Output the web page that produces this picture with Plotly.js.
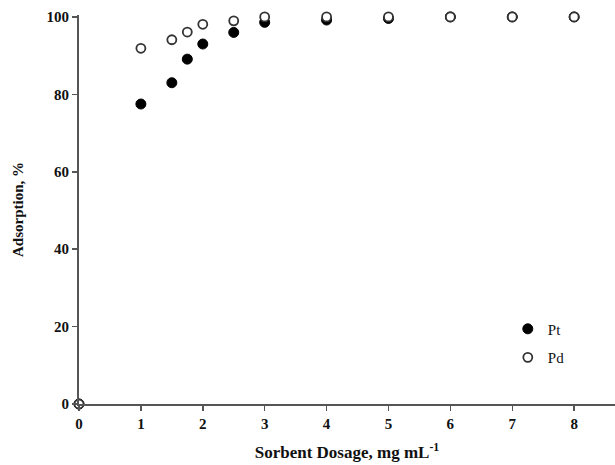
<!DOCTYPE html>
<html>
<head>
<meta charset="utf-8">
<script src="https://cdn.plot.ly/plotly-3.0.1.min.js"></script>
<style>html,body{margin:0;padding:0;background:#fff}#chart{width:615px;height:465px}</style>
</head>
<body>
<div id="chart"></div>
<script>
const dosage = [0, 1, 1.5, 1.75, 2, 2.5, 3, 4, 5, 6, 7, 8];
const ptAdsorption = [0, 77.5, 83.0, 89.1, 93.0, 96.0, 98.6, 99.2, 99.6, 100, 100, 100];
const pdAdsorption = [0, 91.9, 94.1, 96.1, 98.1, 99.0, 100, 100, 100, 100, 100, 100];
const xTicks = [0, 1, 2, 3, 4, 5, 6, 7, 8];
const yTicks = [0, 20, 40, 60, 80, 100];

const serif = 'Liberation Serif, Times New Roman, serif';
const axisColor = '#555';

const traces = [
  {
    x: dosage, y: ptAdsorption, name: 'Pt', type: 'scatter', mode: 'markers',
    legendgroup: 'a', cliponaxis: false,
    marker: {symbol: 'circle', size: 10, color: '#000', line: {color: '#000', width: 1}}
  },
  {
    x: dosage, y: pdAdsorption, name: 'Pd', type: 'scatter', mode: 'markers',
    legendgroup: 'b', cliponaxis: false,
    marker: {symbol: 'circle', size: 9, color: '#fff', line: {color: '#333', width: 1.8}}
  }
];

const layout = {
  width: 615, height: 465,
  margin: {l: 79, r: 0, t: 15, b: 61},
  paper_bgcolor: '#fff', plot_bgcolor: '#fff',
  font: {family: serif, color: '#111', size: 15},
  showlegend: true,
  legend: {
    x: 0.80, y: 0.235, xanchor: 'left', yanchor: 'top',
    bgcolor: 'rgba(0,0,0,0)', traceorder: 'grouped', tracegroupgap: 6,
    itemwidth: 30,
    font: {family: serif, size: 15, color: '#111'}
  },
  xaxis: {
    range: [0, 8.66], tickvals: xTicks, ticktext: xTicks.map(v => '<b>' + v + '</b>'),
    showgrid: false, zeroline: false, showline: true, linecolor: axisColor, linewidth: 2,
    ticks: 'outside', ticklen: 5, tickcolor: axisColor, tickwidth: 1.5,
    tickfont: {family: serif, size: 15, color: '#111'},
    title: {text: '<b>Sorbent Dosage, mg mL<sup>-1</sup></b>', font: {family: serif, size: 17, color: '#111'}, standoff: 15}
  },
  yaxis: {
    range: [0, 100.5], tickvals: yTicks, ticktext: yTicks.map(v => '<b>' + v + '</b>'),
    showgrid: false, zeroline: false, showline: true, linecolor: axisColor, linewidth: 2,
    ticks: 'outside', ticklen: 5, tickcolor: axisColor, tickwidth: 1.5,
    tickfont: {family: serif, size: 15, color: '#111'},
    title: {text: '<b>Adsorption, %</b>', font: {family: serif, size: 15, color: '#111'}, standoff: 19}
  }
};

Plotly.newPlot('chart', traces, layout, {displayModeBar: false, staticPlot: true});
</script>
</body>
</html>
